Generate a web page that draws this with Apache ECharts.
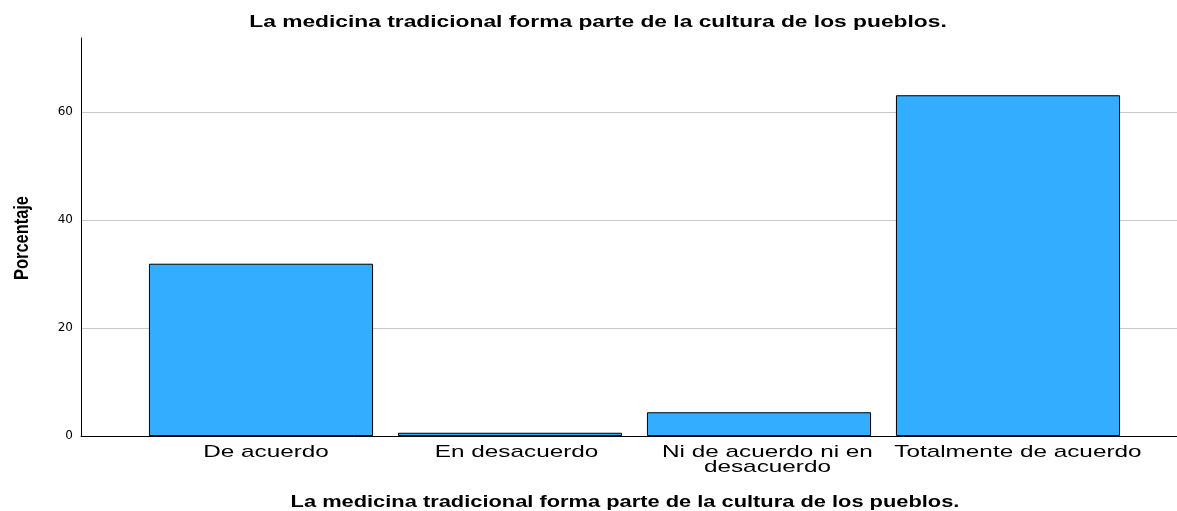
<!DOCTYPE html>
<html>
<head>
<meta charset="utf-8">
<script src="https://cdn.jsdelivr.net/npm/echarts@6/dist/echarts.min.js"></script>
<style>
  html, body { margin: 0; padding: 0; background: #fff; }
  #chart { width: 1177px; height: 511px; }
</style>
</head>
<body>
<div id="chart"></div>
<script>
const categories = ['De acuerdo', 'En desacuerdo', 'Ni de acuerdo ni en\ndesacuerdo', 'Totalmente de acuerdo']
const porcentaje = [31.9, 0.6, 4.4, 63.1]
const yTicks = [0, 20, 40, 60]

const titleText = 'La medicina tradicional forma parte de la cultura de los pueblos.'
const yMax = 73.7

const chart = echarts.init(document.getElementById('chart'))

// SPSS output is stretched sideways, so texts get a horizontal scale
const stretchedText = (text, x, y, sx, font, extra) => Object.assign({
  type: 'text',
  x: x,
  y: y,
  scaleX: sx,
  style: {
    text: text,
    font: font,
    fill: '#000',
    textAlign: 'center',
    textVerticalAlign: 'middle',
    lineHeight: 15
  }
}, extra || {})

const boldFont = 'bold 17px "Liberation Sans", Arial, sans-serif'
const labelFont = '17px "Liberation Sans", Arial, sans-serif'
const labelScale = 1.43

chart.setOption({
  animation: false,
  grid: [
    { left: 81, right: 0, top: 38, bottom: 75 },
    { left: 136.5, right: 44.5, top: 38, bottom: 75 }
  ],
  xAxis: [{
    gridIndex: 0,
    type: 'category',
    data: [''],
    axisLine: { lineStyle: { color: '#000', width: 1 } },
    axisTick: { show: false },
    axisLabel: { show: false }
  }, {
    gridIndex: 1,
    type: 'category',
    data: categories,
    axisLine: { show: false },
    axisTick: { show: false },
    axisLabel: { show: false }
  }],
  yAxis: [{
    gridIndex: 0,
    type: 'value',
    min: 0,
    max: yMax,
    interval: 20,
    axisLine: { show: true, lineStyle: { color: '#000', width: 1 } },
    axisTick: { show: false },
    axisLabel: {
      color: '#000',
      fontSize: 12,
      fontFamily: 'DejaVu Sans, sans-serif',
      margin: 8,
      showMaxLabel: false,
      formatter: v => (yTicks.includes(v) ? String(v) : '')
    },
    splitLine: {
      show: true,
      showMinLine: false,
      showMaxLine: false,
      lineStyle: { color: '#c8c8c8', width: 1 }
    }
  }, {
    gridIndex: 1,
    type: 'value',
    min: 0,
    max: yMax,
    show: false,
    splitLine: { show: false }
  }],
  series: [{
    type: 'bar',
    xAxisIndex: 1,
    yAxisIndex: 1,
    data: porcentaje,
    barWidth: '90%',
    itemStyle: {
      color: '#33adff',
      borderColor: '#000',
      borderWidth: 1
    }
  }]
})

// measure label widths so the small rightward drift of the original can be kept
const ctx = document.createElement('canvas').getContext('2d')
ctx.font = labelFont
const textWidth = s => Math.max.apply(null, s.split('\n').map(l => ctx.measureText(l).width))

// category labels, placed on the category axis scale
const catLabels = categories.map(c => {
  const x = chart.convertToPixel({ xAxisIndex: 1 }, c)
  const lines = c.split('\n').length
  const drift = 0.04 * textWidth(c) * labelScale
  return stretchedText(c, x + drift, 452 + (lines - 1) * 7.5, labelScale, labelFont)
})

chart.setOption({
  graphic: [
    stretchedText(titleText, 598, 22, 1.34, boldFont),
    stretchedText(titleText, 625, 502, 1.285, boldFont),
    stretchedText('Porcentaje', 22, 238, 0.82, 'bold 20px "Liberation Sans", Arial, sans-serif', { rotation: Math.PI / 2 })
  ].concat(catLabels)
})
</script>
</body>
</html>
